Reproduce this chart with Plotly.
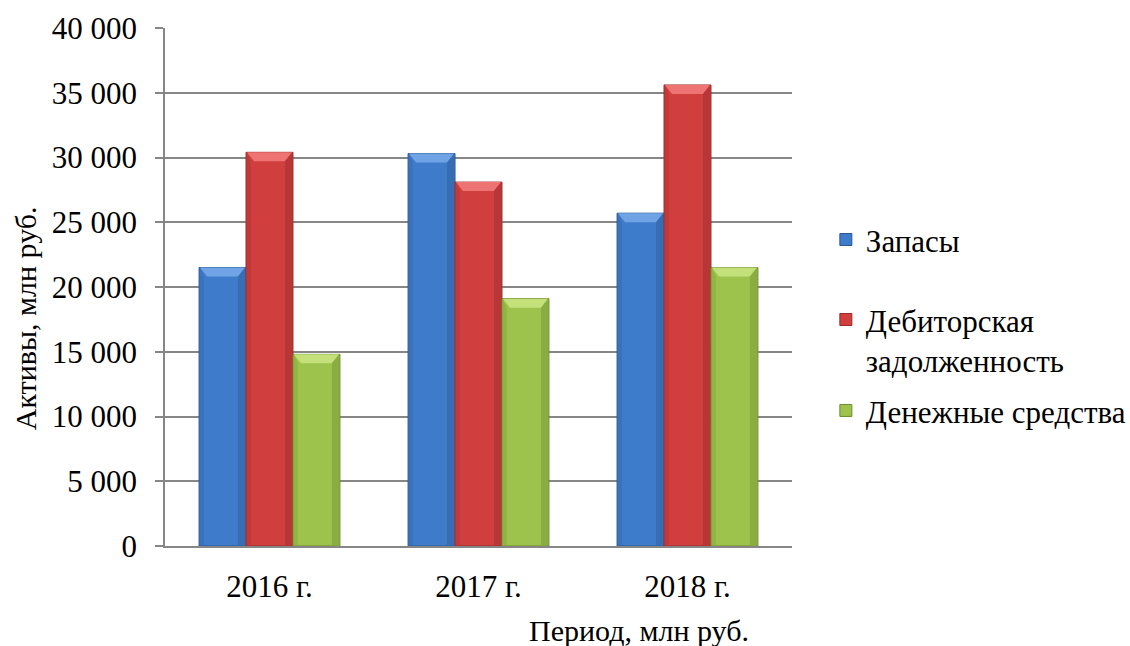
import plotly.graph_objects as go

# Data: assets by year, mln rub.
years = ["2016 г.", "2017 г.", "2018 г."]
series_names = ["Запасы", "Дебиторская<br>задолженность", "Денежные средства"]
zapasy = [21500, 30300, 25700]
debitorka = [30400, 28100, 35600]
dengi = [14800, 19100, 21500]
y_ticks = [0, 5000, 10000, 15000, 20000, 25000, 30000, 35000, 40000]

values = [zapasy, debitorka, dengi]
fills = ["#3E7CCB", "#D03F3E", "#9DC34C"]
edges = ["#2A5894", "#962B2B", "#6C8A30"]
tops = ["#6FA3E6", "#EE7473", "#C3E07A"]
sides = ["#3569AD", "#B33434", "#84A73D"]

FONT = "Times New Roman, Liberation Serif, Tinos, DejaVu Serif, serif"
FS = 31
GAP = 0.326
n = len(values)
bw = (1 - GAP) / n

legend_ids = ["legend", "legend2", "legend3"]
legend_y = [0.591, 0.398, 0.261]

fig = go.Figure()
for i, (name, vals) in enumerate(zip(series_names, values)):
    fig.add_trace(go.Bar(
        x=years, y=vals, name=name,
        marker=dict(color=fills[i], line=dict(color=edges[i], width=1)),
        legend=legend_ids[i],
    ))

# bevel highlights on the top and sides of each bar
shapes = []
y_per_px = 40000 / 518.5
h = 9 * y_per_px
for i, vals in enumerate(values):
    for c, v in enumerate(vals):
        x0 = c - (1 - GAP) / 2 + i * bw
        x1 = x0 + bw
        d = bw * 0.17
        shapes.append(dict(
            type="path", xref="x", yref="y", layer="above", line=dict(width=0),
            fillcolor=tops[i],
            path=f"M {x0+0.004},{v} L {x1-0.004},{v} L {x1-d},{v-h} L {x0+d},{v-h} Z",
        ))
        shapes.append(dict(
            type="path", xref="x", yref="y", layer="above", line=dict(width=0),
            fillcolor=sides[i], opacity=0.8,
            path=f"M {x1-0.004},{v} L {x1-d},{v-h} L {x1-d},{0} L {x1-0.004},{0} Z",
        ))
        shapes.append(dict(
            type="path", xref="x", yref="y", layer="above", line=dict(width=0),
            fillcolor=sides[i], opacity=0.5,
            path=f"M {x0+0.004},{v} L {x0+d*0.6},{v-h} L {x0+d*0.6},{0} L {x0+0.004},{0} Z",
        ))

legend_common = dict(
    xanchor="left", yanchor="middle",
    font=dict(family=FONT, size=FS, color="black"),
    valign="top", itemwidth=30, bgcolor="rgba(0,0,0,0)",
)

fig.update_layout(
    width=1130, height=646,
    margin=dict(l=164.5, r=337.5, t=28, b=99.5, autoexpand=False),
    paper_bgcolor="white", plot_bgcolor="white",
    barmode="group", bargap=GAP, bargroupgap=0,
    separators=", ",
    font=dict(family=FONT, size=FS, color="black"),
    shapes=shapes,
    showlegend=True,
    annotations=[
        dict(text="Активы, млн руб.", xref="paper", yref="paper",
             x=-0.223, y=0.44, xanchor="center", yanchor="middle",
             textangle=-90, showarrow=False,
             font=dict(family=FONT, size=30)),
        dict(text="Период, млн руб.", xref="paper", yref="paper",
             x=0.756, y=-0.163, xanchor="center", yanchor="middle",
             showarrow=False, font=dict(family=FONT, size=30)),
    ],
)
for lid, ly in zip(legend_ids, legend_y):
    fig.update_layout({lid: dict(x=1.054, y=ly, **legend_common)})

fig.update_yaxes(
    range=[0, 40000], tickvals=y_ticks, tickformat=",d",
    tickfont=dict(family=FONT, size=FS, color="black"),
    showgrid=True, gridcolor="#868686", gridwidth=1.5,
    showline=True, linecolor="#868686", linewidth=1.5,
    ticks="outside", ticklen=8, tickcolor="#868686", tickwidth=1.5,
    ticklabelstandoff=12, zeroline=False,
)
fig.update_xaxes(
    tickfont=dict(family=FONT, size=FS, color="black"),
    showline=True, linecolor="#868686", linewidth=1.5,
    ticks="", ticklabelstandoff=12, showgrid=False,
)

fig.write_html("out.html")
